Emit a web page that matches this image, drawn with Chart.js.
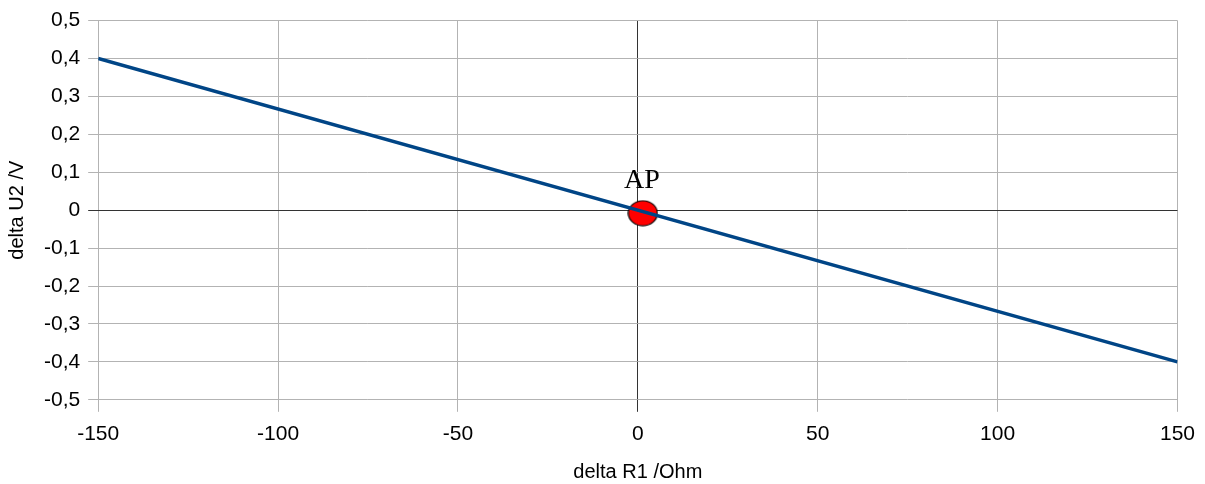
<!DOCTYPE html>
<html>
<head>
<meta charset="utf-8">
<script src="https://cdn.jsdelivr.net/npm/chart.js@4/dist/chart.umd.min.js"></script>
<style>
    body{margin:0;background:#fff;}
    #wrap{width:1205px;height:484px;}
</style>
</head>
<body>
<div id="wrap"><canvas id="chart"></canvas></div>
<script>
// data
const xValues = [-150, 150];
const yValues = [0.4, -0.4];
const apX = [1.4];
const apY = [-0.008];
const apLabels = ["AP"];
const xTicks = [-150, -100, -50, 0, 50, 100, 150];
const yTicks = [-0.5, -0.4, -0.3, -0.2, -0.1, 0, 0.1, 0.2, 0.3, 0.4, 0.5];

// red ellipse for the operating point
function makeEllipse(w, h){
    let c = document.createElement("canvas");
    c.width = w; c.height = h;
    let g = c.getContext("2d");
    g.beginPath();
    g.ellipse(w/2, h/2, w/2 - 1, h/2 - 1, 0, 0, Math.PI*2);
    g.fillStyle = "#ff0000";
    g.fill();
    g.lineWidth = 1.2;
    g.strokeStyle = "#000";
    g.stroke();
    return c;
}

const apLabelPlugin = {
    id: "apLabel",
    afterDatasetsDraw(chart){
        let meta = chart.getDatasetMeta(1);
        let ctx = chart.ctx;
        ctx.save();
        ctx.font = "28px 'Liberation Serif', 'DejaVu Serif', serif";
        ctx.fillStyle = "#000";
        ctx.textAlign = "center";
        ctx.textBaseline = "alphabetic";
        meta.data.forEach((p, i) => {
            ctx.fillText(apLabels[i], p.x - 1, p.y - 25);
        });
        ctx.restore();
    }
};

function fmt(v){
    if (Math.abs(v) < 1e-9) return "0";
    return v.toFixed(1).replace(".", ",");
}

const tickFont = {family: "'Liberation Sans', Arial, sans-serif", size: 21};
const titleFont = {family: "'Liberation Sans', Arial, sans-serif", size: 20};

new Chart(document.getElementById("chart"), {
    type: "scatter",
    data: {
        datasets: [{
            data: xValues.map((x, i) => ({x: x, y: yValues[i]})),
            showLine: true,
            borderColor: "#004586",
            borderWidth: 3.5,
            pointRadius: 0,
            pointHoverRadius: 0
        }, {
            data: apX.map((x, i) => ({x: x, y: apY[i]})),
            pointStyle: makeEllipse(31, 27),
            pointRadius: 14
        }]
    },
    plugins: [apLabelPlugin],
    options: {
        responsive: true,
        maintainAspectRatio: false,
        animation: false,
        layout: {padding: {left: 5, right: 26.5, top: 6.5, bottom: 0}},
        plugins: {legend: {display: false}, tooltip: {enabled: false}},
        scales: {
            x: {
                type: "linear",
                min: -150, max: 150,
                afterBuildTicks: axis => { axis.ticks = xTicks.map(v => ({value: v})); },
                ticks: {font: tickFont, color: "#000", padding: 10, maxRotation: 0, callback: v => String(v)},
                grid: {
                    color: c => c.tick && c.tick.value === 0 ? "#333" : "#b3b3b3",
                    lineWidth: 1,
                    tickLength: 12
                },
                border: {display: false},
                title: {display: true, text: "delta R1 /Ohm", font: titleFont, color: "#000", padding: {top: 3, bottom: 0}}
            },
            y: {
                type: "linear",
                min: -0.5, max: 0.5,
                afterBuildTicks: axis => { axis.ticks = yTicks.map(v => ({value: v})); },
                ticks: {font: tickFont, color: "#000", padding: 8, callback: v => fmt(v)},
                grid: {
                    color: c => c.tick && Math.abs(c.tick.value) < 1e-9 ? "#333" : "#b3b3b3",
                    lineWidth: 1,
                    tickLength: 10
                },
                border: {display: false},
                title: {display: true, text: "delta U2 /V", font: titleFont, color: "#000", padding: {top: 0, bottom: 7}}
            }
        }
    }
});
</script>
</body>
</html>
